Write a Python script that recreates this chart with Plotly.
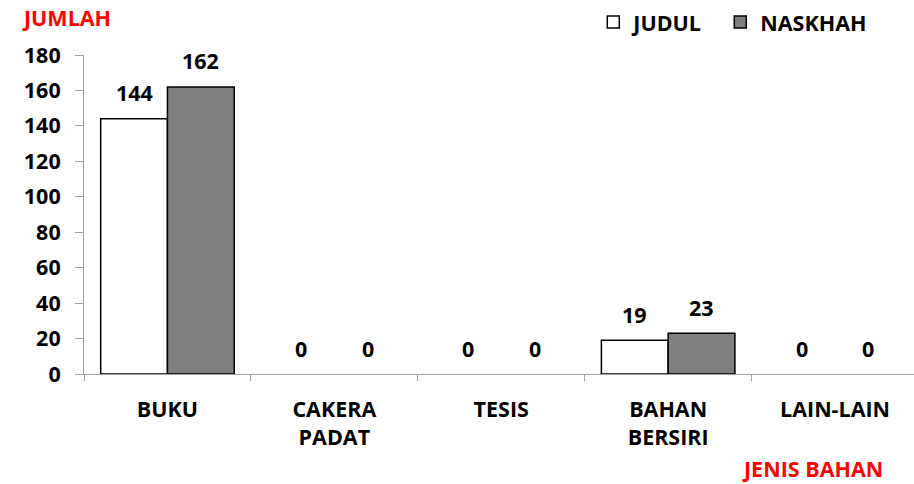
import plotly.graph_objects as go

categories = ["BUKU", "CAKERA<br>PADAT", "TESIS", "BAHAN<br>BERSIRI", "LAIN-LAIN"]
judul = [144, 0, 0, 19, 0]
naskhah = [162, 0, 0, 23, 0]
series_names = ["JUDUL", "NASKHAH"]
y_ticks = [0, 20, 40, 60, 80, 100, 120, 140, 160, 180]

FONT = "Open Sans"
FS = 21.5
bold = dict(family=FONT, size=FS, color="black", weight="bold")

def line_widths(vals):
    return [1.5 if v else 0 for v in vals]

fig = go.Figure()
fig.add_trace(go.Bar(x=categories, y=judul, name=series_names[0], legend="legend",
                     marker=dict(color="white", line=dict(color="black", width=line_widths(judul)))))
fig.add_trace(go.Bar(x=categories, y=naskhah, name=series_names[1], legend="legend2",
                     marker=dict(color="#808080", line=dict(color="black", width=line_widths(naskhah)))))

for i in range(len(categories)):
    for off, vals in ((-0.2, judul), (0.2, naskhah)):
        fig.add_annotation(x=i + off, y=vals[i], xref="x", yref="y", text=str(vals[i]),
                           showarrow=False, yanchor="middle", yshift=26, font=bold)

red = dict(family=FONT, size=FS, color="red", weight="bold")
fig.add_annotation(xref="x domain", yref="y domain", x=-0.077, y=1.116,
                   xanchor="left", yanchor="middle", text="JUMLAH", showarrow=False, font=red)
fig.add_annotation(xref="x domain", yref="y domain", x=0.965, y=-0.297, xanchor="right",
                   yanchor="middle", text="JENIS BAHAN", showarrow=False, font=red)

legend_common = dict(orientation="h", xanchor="left", y=1.103, yanchor="middle",
                     font=bold, bgcolor="rgba(0,0,0,0)")
fig.update_layout(
    width=914, height=484,
    margin=dict(l=84, r=0, t=55, b=110, autoexpand=False),
    paper_bgcolor="white", plot_bgcolor="white",
    barmode="group", bargap=0.2, bargroupgap=0,
    font=bold,
    legend=dict(x=0.6136, **legend_common),
    legend2=dict(x=0.7666, **legend_common),
    showlegend=True,
)
fig.update_xaxes(range=[-0.5, 4.473], showline=True, linecolor="#a0a0a0", linewidth=1,
                 ticks="outside", tickson="boundaries", ticklen=6, tickcolor="#a0a0a0",
                 showgrid=False, ticklabelstandoff=16, tickfont=bold)
fig.update_yaxes(range=[0, 180], tickvals=y_ticks, showline=True, linecolor="#a0a0a0",
                 linewidth=1, ticks="outside", ticklen=8, tickcolor="#a0a0a0",
                 showgrid=False, zeroline=False, ticklabelstandoff=10, tickfont=bold)

fig.write_html("out.html", config={"displayModeBar": False},
               post_script="document.body.style.margin='0';")
